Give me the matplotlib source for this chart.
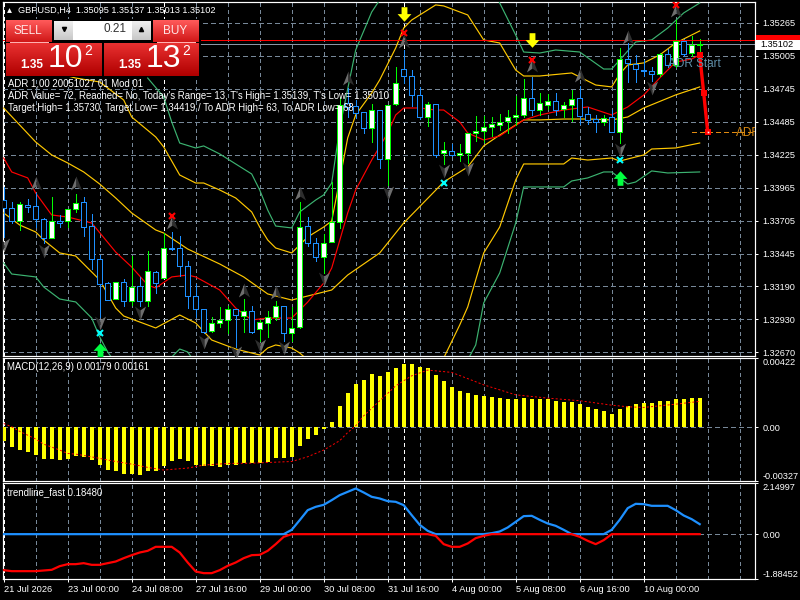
import numpy as np
import matplotlib
matplotlib.use("Agg")
import matplotlib.pyplot as plt
from matplotlib.path import Path
from matplotlib.patches import Rectangle

plt.rcParams['font.family'] = ['Liberation Sans', 'DejaVu Sans']
plt.rcParams['lines.scale_dashes'] = False

# ---- candles, in 1e-5 price units ----
opens = [133870,133805,133705,133831,133823,133718,133568,133708,133708,133797,
133852,133666,133403,133214,133093,133222,133077,133190,133077,133301,
133259,133490,133490,133353,133117,133009,132841,132904,132922,133009,
132957,132993,132852,132899,132951,133038,132820,132867,133663,133529,
133419,133537,133694,134632,134611,134561,134435,134577,134191,134629,
134900,134850,134700,134527,134624,134238,134254,134222,134238,134401,
134411,134443,134459,134490,134527,134543,134677,134579,134621,134648,
134585,134621,134671,134545,134506,134482,134522,134409,134979,134939,
134895,134884,134860,135018,134934,135126,135026,135095]
highs = [133975,133857,133852,133878,133923,133726,133891,133752,133797,133918,
133897,133760,133437,133227,133222,133248,133429,133266,133471,133314,
133608,133621,133587,133390,133209,133009,132951,133030,133035,133009,
133088,133035,132925,132999,133077,133038,133030,133855,133737,133568,
133603,134015,134684,134750,134658,134561,134624,134577,134621,134916,
135052,134895,134763,134645,134624,134325,134312,134312,134401,134532,
134535,134522,134548,134579,134690,134824,134842,134711,134705,134711,
134642,134737,134768,134606,134540,134540,134579,135065,135110,135013,
134973,134921,135031,135057,135288,135136,135162,135137]
lows = [133582,133687,133634,133779,133660,133529,133568,133660,133655,133779,
133587,133327,132951,133083,133088,133035,133043,133035,133035,133140,
133253,133477,133274,133022,132951,132820,132833,132873,132820,132715,
132833,132820,132762,132794,132925,132760,132760,132859,133511,133393,
133293,133537,133652,134522,134514,134401,134330,134125,133989,134619,
134790,134611,134511,134453,134207,134154,134220,134178,134159,134338,
134330,134375,134422,134401,134461,134527,134540,134540,134585,134540,
134522,134495,134469,134466,134409,134461,134409,134322,134803,134803,
134847,134808,134847,134921,134921,135005,135007,135013]
closes = [133805,133708,133836,133818,133718,133568,133708,133692,133797,133844,
133660,133403,133209,133083,133222,133077,133188,133077,133308,133214,
133490,133484,133353,133117,133009,132833,132904,132922,133009,132962,
132993,132833,132907,132951,133038,132820,132865,133655,133529,133419,
133534,133694,134619,134606,134558,134435,134577,134191,134621,134790,
134850,134698,134527,134624,134225,134262,134222,134238,134401,134411,
134443,134466,134488,134527,134543,134677,134579,134632,134648,134579,
134621,134669,134535,134498,134482,134514,134409,134979,134947,134900,
134884,134860,135018,134934,135120,135021,135089,135102]

# ---- price-pane indicator lines (bar index, price in 1e-5) ----
red_k = [0,1,3,4,6,8,11,14,16,18,19,21,23,24,27,29,31,33,36,38,40,41,43,44,46,48,49,50,52,54,55,57,58,60,62,65,67,70,73,76,78,80,82,84,86,87]
red_p = [134201,134091,134044,133925,133752,133736,133689,133460,133342,133200,133177,133264,133279,133264,133161,133019,132925,132940,132940,133066,133216,133334,133768,133949,134185,134398,134540,134595,134595,134579,134579,134485,134398,134343,134374,134500,134540,134579,134603,134540,134603,134697,134831,134957,134981,135013]
ya_k = [8,9,12,15,16,19,20,22,24,25,27,29,31,32,33,34,36,38,40,41,42,43,44,46,47,49,50,51,54,55,58,60,62,64,65,67,71,74,76,77,78,80,82,84,87]
ya_p = [134847,134831,134800,134658,134524,134367,134288,134067,134004,134004,133949,133886,133776,133657,133555,133492,133453,133579,133657,133705,134028,134359,134540,134713,134816,135068,135225,135288,135407,135399,135328,135131,135107,134894,134847,134847,134871,134776,134761,134863,134934,134950,135013,135107,135202]
yb_k = [0,4,6,8,10,12,14,16,19,20,23,27,30,33,36,37,41,43,47,50,55,58,60,62,65,67,70,73,76,78,80,84,87]
yb_p = [134595,134327,134225,134162,134091,133996,133886,133768,133634,133610,133484,133366,133264,133130,133082,133098,133161,133279,133453,133689,134012,134130,134296,134382,134501,134501,134508,134508,134501,134524,134595,134698,134761]
yc_k = [0,2,4,5,7,9,12,14,15,19,22,24,26,29,32,33,34,36,37,38,40,48,54,55,57,58,60,62,64,65,70,71,73,76,77,80,81,84,87]
yc_p = [133768,133673,133618,133555,133453,133429,133240,133019,132956,132862,132964,132901,132767,132696,132649,132704,132728,132704,132665,132610,132491,132413,132491,132625,132885,133027,133453,133657,134028,134154,134154,134201,134185,134201,134177,134225,134272,134280,134319]
gu_k = [18,20,21,22,24,25,27,29,31,32,33,34,36,37,39,40,41,42,44,46,47,52,58,61,62,64,65,67,69,72,75,76,79,81,83,85,87]
gu_p = [134831,134682,134485,134319,134280,134296,134233,134154,134075,133949,133791,133665,133650,133776,133870,133910,134004,134437,135052,135351,135446,135761,135761,135564,135422,135170,135036,135028,135052,135036,134902,134902,135115,135131,135225,135344,135422]
gl_k = [0,1,4,5,7,9,11,12,13,15,19,21,22,23,25,57,59,60,62,64,65,70,71,73,75,76,78,79,81,83,87]
gl_p = [133374,133287,133264,133185,133090,133067,132940,132791,132673,132491,132491,132633,132696,132673,132491,132491,132728,133059,133295,133689,133973,133973,134020,134044,134091,134091,133996,134012,134099,134083,134091]

# ---- signal markers ----
up_k = [4,9,21,30,34,37,43,50,66,72,78,84]
up_p = [134004,134004,133697,133161,133145,133925,134831,135123,134934,134855,135154,135367]
dn_k = [0,5,12,17,25,29,32,35,40,48,55,58,77,81]
dn_p = [133516,133468,132901,132980,132751,132665,132720,132704,133248,133925,134099,134114,134264,134753]
yarrow_k = [50,66]; yarrow_p = [135336,135131]
garrow_k = [12,77]; garrow_p = [132688,134044]
cyan_k = [12,55,77]; cyan_p = [132822,134004,134185]
redx_k = [21,50,66,84]; redx_p = [133744,135186,134973,135407]

# ---- ADR and current price levels ----
adr_k = [87,87.5,88]; adr_p = [135013,134713,134406]
ask_price = 1.35132
bid_price = 1.35102
adr_low_level = 1.34406

# ---- MACD, in 1e-5 ----
macd = [-81,-118,-138,-151,-169,-193,-193,-199,-195,-173,-179,-199,-230,-260,-267,-285,-285,-289,-269,-267,
-236,-206,-195,-204,-228,-234,-234,-240,-230,-228,-218,-220,-218,-208,-187,-187,-179,-114,-69,-47,
-12,33,130,210,265,289,326,313,338,362,387,387,366,360,319,281,244,222,208,197,
191,185,179,173,173,179,173,173,173,161,155,155,142,124,112,100,81,112,130,142,
149,149,161,161,173,173,179,179]
sig_k = [0,1,2,4,5,7,8,9,10,12,14,16,18,20,23,25,28,31,33,36,38,40,42,43,44,45,46,47,48,49,50,51,53,56,60,64,68,72,76,78,80,84,87]
sig_v = [24,4,-24,-71,-102,-138,-159,-163,-171,-189,-208,-224,-244,-260,-248,-230,-220,-218,-214,-208,-179,-138,-81,-31,10,71,116,163,208,254,285,315,350,336,260,199,179,163,136,126,122,142,159]

# ---- trendline_fast ----
tr_red = [-1.513,-1.555,-1.555,-1.555,-1.555,-1.527,-1.499,-1.345,-1.261,-1.261,-1.219,-1.289,-1.289,-1.219,-1.149,-1.009,-0.883,-0.771,-0.700,-0.532,
-0.532,-0.532,-0.771,-1.191,-1.569,-1.639,-1.639,-1.513,-1.331,-1.191,-1.009,-0.883,-0.869,-0.700,-0.420,-0.112,0,0,0,0,
0,0,0,0,0,0,0,0,0,0,0,0,0,0,-0.070,-0.420,-0.532,-0.532,-0.392,-0.168,
-0.070,0,0,0,0,0,0,0,0,0,0,0,-0.112,-0.280,-0.420,-0.252,0,0,0,0,
0,0,0,0,0,0,0,0]
tr_blue = [0,0,0,0,0,0,0,0,0,0,0,0,0,0,0,0,0,0,0,0,
0,0,0,0,0,0,0,0,0,0,0,0,0,0,0,0,0.182,0.588,1.009,1.149,
1.233,1.429,1.639,1.779,1.919,1.751,1.569,1.499,1.387,1.359,1.219,0.799,0.392,0.140,0,0,0,0,0,0,
0,0.042,0.112,0.280,0.518,0.757,0.771,0.602,0.448,0.350,0.182,0,0,0,0,0,0.182,0.602,1.093,1.275,
1.261,1.191,1.191,1.191,1.009,0.785,0.630,0.420]

# ---- axes labels ----
price_ticks = [1.35265,1.35005,1.34745,1.34485,1.34225,1.33965,1.33705,1.33445,1.33190,1.32930,1.32670]
macd_ticks = [0.00422,0.0,-0.00327]
macd_labels = ['0.00422','0.00','-0.00327']
trend_ticks = [2.14997,0.0,-1.88452]
trend_labels = ['2.14997','0.00','-1.88452']
time_k = [0,8,16,24,32,40,48,56,64,72,80]
time_labels = ['21 Jul 2026','23 Jul 00:00','24 Jul 08:00','27 Jul 16:00','29 Jul 00:00','30 Jul 08:00',
               '31 Jul 16:00','4 Aug 00:00','5 Aug 08:00','6 Aug 16:00','10 Aug 00:00']
grid_k = list(range(0,93,4)) + [50]
sep_k = [0,20,50,80]

PX = 0.72
THIN = 0.5
BAND = 0.85
FS = 6.9
TICK_FS = 6.6
GRID = '#778899'
BLUE = '#1e90ff'
W, H = 800, 600
fig = plt.figure(figsize=(8,6), dpi=100, facecolor='black')

def pane(top, bottom, ymin, ymax):
    ax = fig.add_axes([2.5/W, 1-bottom/H, 752/W, (bottom-top)/H], facecolor='black')
    ax.set_xlim(-0.15, 93.85)
    ax.set_ylim(ymin, ymax)
    for s in ax.spines.values():
        s.set_color('white'); s.set_linewidth(PX*1.2)
    ax.yaxis.tick_right()
    ax.tick_params(axis='y', colors='white', labelsize=TICK_FS, length=2.2, width=PX, pad=3.5)
    ax.tick_params(axis='x', bottom=False, labelbottom=False)
    for k in grid_k:
        c = 'white' if k in sep_k else GRID
        ax.plot([k,k],[ymin,ymax], color=c, lw=THIN, ls=(0,(2.2,2.2)), zorder=1, antialiased=False)
    return ax

main = pane(2, 355.5, 1.32645, 1.35430)
for p in price_ticks:
    main.plot([-0.15,93.85],[p,p], color=GRID, lw=THIN, ls=(0,(2.9,2.2)), zorder=1, antialiased=False)
main.set_yticks(price_ticks); main.set_yticklabels(['%.5f'%p for p in price_ticks])

def P(v): return np.array(v)/1e5

for k_, p_, c in [(gu_k,gu_p,'#3cb371'),(gl_k,gl_p,'#3cb371'),(ya_k,ya_p,'#ffc800'),(yb_k,yb_p,'#ffc800'),(yc_k,yc_p,'#ffc800'),(red_k,red_p,'#ff0000')]:
    main.plot(k_, P(p_), color=c, lw=BAND, zorder=3)

main.axhline(bid_price, color='#8a95a5', lw=THIN, zorder=2.5, antialiased=False)
main.axhline(ask_price, color='#ff0000', lw=THIN, zorder=5, antialiased=False)

idx = np.arange(len(opens))
o, h, l, c = P(opens), P(highs), P(lows), P(closes)
up = c >= o
main.vlines(idx[up], l[up], h[up], color='#00ff00', lw=THIN, zorder=4, antialiased=False)
main.vlines(idx[~up], l[~up], h[~up], color=BLUE, lw=THIN, zorder=4, antialiased=False)
main.bar(idx[up], (c-o)[up], bottom=o[up], width=0.56, facecolor='white', edgecolor='#00ff00', lw=THIN, zorder=4.5, antialiased=False)
main.bar(idx[~up], (c-o)[~up], bottom=o[~up], width=0.56, facecolor='black', edgecolor=BLUE, lw=THIN, zorder=4.5, antialiased=False)

# grey fractal arrowheads, two-tone
left_up = Path([(0,1),(0,-0.45),(-0.8,-1),(0,1)], closed=True)
right_up = Path([(0,1),(0.8,-1),(0,-0.45),(0,1)], closed=True)
left_dn = Path([(0,-1),(-0.8,1),(0,0.45),(0,-1)], closed=True)
right_dn = Path([(0,-1),(0,0.45),(0.8,1),(0,-1)], closed=True)
main.plot(up_k, P(up_p), ls='', marker=left_up, ms=10, mfc='#6e6e6e', mew=0, zorder=6)
main.plot(up_k, P(up_p), ls='', marker=right_up, ms=10, mfc='#2e2e2e', mew=0, zorder=6)
main.plot(dn_k, P(dn_p), ls='', marker=left_dn, ms=10, mfc='#2e2e2e', mew=0, zorder=6)
main.plot(dn_k, P(dn_p), ls='', marker=right_dn, ms=10, mfc='#6e6e6e', mew=0, zorder=6)

block_dn = Path([(-0.4,1),(0.4,1),(0.4,0.05),(0.95,0.05),(0,-1),(-0.95,0.05),(-0.4,0.05),(-0.4,1)], closed=True)
block_up = Path([(-0.4,-1),(0.4,-1),(0.4,-0.05),(0.95,-0.05),(0,1),(-0.95,-0.05),(-0.4,-0.05),(-0.4,-1)], closed=True)
main.plot(yarrow_k, P(yarrow_p), ls='', marker=block_dn, ms=10.5, mfc='#ffff00', mew=0, zorder=7)
main.plot(garrow_k, P(garrow_p), ls='', marker=block_up, ms=10.5, mfc='#00ff40', mew=0, zorder=7)
main.plot(cyan_k, P(cyan_p), ls='', marker='x', ms=4.5, mec='#00ffff', mew=1.5, zorder=7)
main.plot(redx_k, P(redx_p), ls='', marker='x', ms=4.5, mec='#ff0000', mew=1.5, zorder=7)

# ADR projection
main.plot([86,93.85],[adr_low_level,adr_low_level], color='#e08a10', lw=THIN, ls=(0,(2.9,2.2)), zorder=5, antialiased=False)
main.plot(adr_k, P(adr_p), color='#ff0000', lw=2.4, zorder=8, solid_capstyle='butt')
main.plot(adr_k, P(adr_p), ls='', marker='s', ms=4.8, mfc='#ff0000', mew=0, zorder=8)
main.plot(adr_k[-1], adr_p[-1]/1e5, ls='', marker='s', ms=1.2, mfc='white', mew=0, zorder=9)
main.text(91.5, adr_low_level-0.00010, 'ADR', color='#d98a12', fontsize=8.5, va='center', ha='left', zorder=9, clip_on=True)
main.text(83, 1.35446-64*7.879e-5, 'ADR Start', color='#5f8fa8', fontsize=8.5, va='center', ha='left', zorder=9, clip_on=True)

# MACD pane
mp = pane(358.3, 481, -0.00327, 0.00422)
mp.plot([-0.15,93.85],[0,0], color=GRID, lw=THIN, ls=(0,(2.9,2.2)), zorder=1, antialiased=False)
mp.bar(idx, P(macd), width=0.5, color='#ffff00', zorder=3, antialiased=False)
mp.plot(sig_k, P(sig_v), color='#ff0000', lw=0.7, ls=(0,(1.5,1.5)), zorder=4)
mp.set_yticks(macd_ticks); mp.set_yticklabels(macd_labels)
labs = mp.get_yticklabels()
labs[0].set_va('top'); labs[2].set_va('bottom')

# trendline pane
tp = pane(483, 579, -1.88452, 2.14997)
tp.plot([-0.15,93.85],[0,0], color=GRID, lw=THIN, ls=(0,(2.9,2.2)), zorder=1, antialiased=False)
tp.plot(idx, tr_blue, color=BLUE, lw=1.6, zorder=3)
tp.plot(idx, tr_red, color='#ff0000', lw=1.6, zorder=4)
tp.set_yticks(trend_ticks); tp.set_yticklabels(trend_labels)
labs = tp.get_yticklabels()
labs[0].set_va('top'); labs[2].set_va('bottom')
tp.set_xticks(time_k); tp.set_xticklabels(time_labels, ha='left')
tp.tick_params(axis='x', bottom=True, labelbottom=True, colors='white', labelsize=6.7, length=2.2, width=PX, pad=2)

# screen-space overlay: trade panel, captions, price tags
ov = fig.add_axes([0,0,1,1], facecolor='none', zorder=10)
ov.set_axis_off()

def grad(x0,y0,x1,y1,c0,c1):
    c0 = np.array(matplotlib.colors.to_rgb(c0)); c1 = np.array(matplotlib.colors.to_rgb(c1))
    t = np.linspace(0,1,32)[:,None,None]
    img = c0[None,None,:]*(1-t)+c1[None,None,:]*t
    ov.imshow(img, extent=(x0,x1,y1,y0), aspect='auto', zorder=2, interpolation='bilinear')

ov.add_patch(Rectangle((5,19),196,58,fc='black',ec='none',zorder=1))
grad(6,20,52,42,'#ff5a5a','#d01818')
grad(153,20,199,42,'#ff5a5a','#d01818')
grad(6,43,102,76,'#e83030','#b00000')
grad(104,43,199,76,'#e83030','#b00000')
grad(54,21,73,40,'#f0f0f0','#c8c8c8')
grad(132,21,151,40,'#f0f0f0','#c8c8c8')
ov.add_patch(Rectangle((73,21),59,19,fc='white',ec='none',zorder=2))
for x0,x1 in [(10,48),(157,195)]:
    ov.plot([x0,x1],[41.5,41.5],color='#ffb0b0',lw=PX,zorder=3)
ov.plot([63.5],[29],marker='v',ms=3,color='black',zorder=3)
ov.plot([141],[29],marker='^',ms=3,color='black',zorder=3)
ov.text(28,30.5,'SELL',color='#ffe8e8',fontsize=8.5,ha='center',va='center',zorder=4)
ov.text(175,30.5,'BUY',color='#ffe8e8',fontsize=8.5,ha='center',va='center',zorder=4)
ov.text(126,29.5,'0.21',color='#333333',fontsize=8.5,ha='right',va='center',zorder=4)
for x,big in [(0,'10'),(98,'13')]:
    ov.text(32+x,65,'1.35',color='white',fontsize=8.5,fontweight='bold',ha='center',va='center',zorder=4)
    ov.text(65+x,59,big,color='white',fontsize=23,ha='center',va='center',zorder=4)
    ov.text(88+x,51,'2',color='white',fontsize=10,ha='center',va='center',zorder=4)

TXT = dict(color='white', fontsize=FS, va='center', ha='left', zorder=6)
ov.plot([8.5],[10],marker='^',ms=3.5,color='white',mew=0)
ov.text(18,10.5,'GBPUSD,H4  1.35095 1.35137 1.35013 1.35102',color='white',fontsize=6.6,va='center',ha='left',zorder=6)
ov.text(8,84,'ADR 1,00 20051027 01 Mod 01',**TXT)
ov.text(8,96,"ADR Value= 72, Reached= No, Today's Range= 13, T's High= 1.35139, T's Low= 1.35010",**TXT)
ov.text(8,108,'Target High= 1.35730, Target Low= 1.34419 / To ADR High= 63, To ADR Low= 68',**TXT)
ov.text(7,367.5,'MACD(12,26,9) 0.00179 0.00161',**TXT)
ov.text(7,492.5,'trendline_fast 0.18480',**TXT)

ov.add_patch(Rectangle((756,35),44,6,fc='#ff0000',ec='none',zorder=3))
ov.add_patch(Rectangle((756,40),44,9.5,fc='white',ec='none',zorder=4))
ov.text(760,44.5,'1.35102',color='black',fontsize=TICK_FS,va='center',ha='left',zorder=5)
ov.set_xlim(0,W); ov.set_ylim(H,0)

fig.savefig('out.png', dpi=100, facecolor='black')
